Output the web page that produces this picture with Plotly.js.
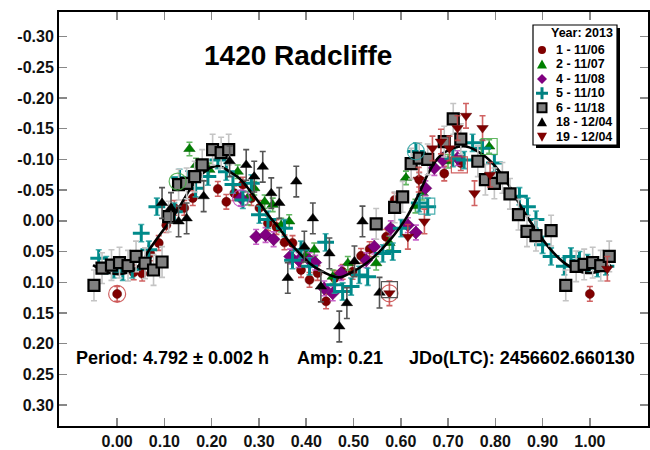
<!DOCTYPE html>
<html>
<head>
<meta charset="utf-8">
<script src="https://cdn.plot.ly/plotly-3.0.1.min.js"></script>
<style>html,body{margin:0;padding:0;background:#fff;}#chart{width:650px;height:450px;}</style>
</head>
<body>
<div id="chart"></div>
<script>
// ---------- DATA ----------
const seriesNames = ['1 - 11/06','2 - 11/07','4 - 11/08','5 - 11/10','6 - 11/18','18 - 12/04','19 - 12/04'];
const legendTitle = 'Year: 2013';
const chartTitle = '1420 Radcliffe';
const periodText = 'Period: 4.792 ± 0.002 h';
const ampText = 'Amp: 0.21';
const jdText = 'JDo(LTC): 2456602.660130';

const xTicks = [0,0.1,0.2,0.3,0.4,0.5,0.6,0.7,0.8,0.9,1.0];
const xTickText = ['0.00','0.10','0.20','0.30','0.40','0.50','0.60','0.70','0.80','0.90','1.00'];
const yTicks = [-0.30,-0.25,-0.20,-0.15,-0.10,-0.05,0,0.05,0.10,0.15,0.20,0.25,0.30];
const yTickText = ['-0.30','-0.25','-0.20','-0.15','-0.10','-0.05','0.00','0.05','0.10','0.15','0.20','0.25','0.30'];

// Series 1 - 11/06
const s1x = [0.000,0.035,0.053,0.070,0.088,0.104,0.121,0.142,0.160,0.213,0.231,0.248,0.266,0.284,0.301,0.319,0.337,0.354,0.371,0.389,0.407,0.424,0.442,0.460,0.477,0.498,0.516,0.534,0.569,0.587,0.639,0.692,0.727,1.000];
const s1y = [0.119,0.084,0.086,0.053,0.036,0.007,-0.021,-0.021,-0.037,-0.052,-0.031,-0.045,-0.059,-0.037,-0.021,0.004,0.010,0.035,0.036,0.080,0.096,0.085,0.131,0.093,0.083,0.083,0.057,0.046,0.026,-0.034,-0.067,-0.077,-0.094,0.119];
const s1e = 0.012;
// Series 2 - 11/07
const s2x = [0.153,0.167,0.195,0.255,0.276,0.290,0.312,0.329,0.347,0.364,0.400,0.417,0.456,0.488,0.548,0.576,0.611,0.631,0.646,0.700,0.787];
const s2y = [-0.117,-0.091,-0.083,-0.080,-0.037,-0.053,-0.031,-0.026,0.007,0.001,0.055,0.047,0.091,0.069,0.069,0.036,-0.070,-0.024,-0.045,-0.097,-0.121];
const s2e = 0.011;
// Series 4 - 11/08
const s4x = [0.262,0.294,0.314,0.331,0.366,0.384,0.407,0.419,0.438,0.456,0.474,0.527,0.544,0.579,0.615,0.632,0.652,0.671,0.689,0.720];
const s4y = [-0.037,0.026,0.023,0.030,0.058,0.064,0.064,0.068,0.110,0.118,0.085,0.064,0.042,0.012,0.007,0.019,-0.053,-0.086,-0.099,-0.102];
const s4e = 0.012;
// Series 5 - 11/10
const s5x = [-0.039,-0.023,-0.007,0.012,0.032,0.051,0.067,0.084,0.121,0.132,0.150,0.166,0.192,0.213,0.231,0.245,0.266,0.284,0.301,0.319,0.354,0.371,0.389,0.407,0.441,0.460,0.477,0.495,0.512,0.530,0.562,0.583,0.601,0.632,0.639,0.657,0.710,0.734,0.752,0.773,0.798,0.851,0.868,0.886,0.900,0.918,0.946,0.960,0.978,0.995,1.016,1.034];
const s5y = [0.061,0.072,0.079,0.083,0.079,0.020,0.047,-0.023,-0.015,-0.070,-0.067,-0.053,-0.072,-0.099,-0.080,-0.059,-0.034,-0.061,-0.010,-0.002,0.012,0.064,0.047,0.074,0.035,0.104,0.115,0.107,0.088,0.091,0.053,0.050,0.012,-0.113,-0.029,-0.023,-0.102,-0.099,-0.127,-0.118,-0.094,-0.040,-0.023,-0.002,0.039,0.058,0.074,0.058,0.064,0.069,0.077,0.074];
const s5e = 0.014;
// Series 6 - 11/18
const s6x = [-0.049,-0.032,-0.012,0.005,0.023,0.040,0.059,0.077,0.095,0.109,0.130,0.147,0.164,0.180,0.202,0.220,0.236,0.548,0.587,0.604,0.622,0.639,0.657,0.692,0.711,0.727,0.763,0.779,0.798,0.815,0.831,0.849,0.867,0.886,0.918,0.949,0.971,0.988,1.006,1.023,1.041];
const s6y = [0.105,0.077,0.072,0.068,0.073,0.058,0.069,0.080,0.067,-0.007,-0.059,-0.061,-0.072,-0.091,-0.116,-0.111,-0.116,0.005,-0.022,-0.039,-0.093,-0.102,-0.100,-0.129,-0.166,-0.133,-0.097,-0.067,-0.061,-0.070,-0.044,-0.010,0.017,0.024,0.016,0.105,0.074,0.071,0.068,0.073,0.058];
const s6e = 0.025;
// Series 18 - 12/04
const s18x = [0.095,0.114,0.130,0.147,0.183,0.238,0.273,0.290,0.308,0.326,0.343,0.361,0.379,0.396,0.414,0.431,0.449,0.470,0.486,0.502,0.519,0.555];
const s18y = [-0.029,-0.021,0.001,-0.004,-0.040,-0.097,-0.091,-0.072,-0.088,-0.045,-0.029,0.093,-0.064,0.042,-0.004,0.107,0.053,0.172,0.134,0.066,0.001,0.117];
const s18e = 0.025;
// Series 19 - 12/04
const s19x = [0.576,0.615,0.638,0.650,0.667,0.685,0.703,0.720,0.738,0.756,0.773,0.789,1.037];
const s19y = [0.118,0.026,-0.067,0.001,-0.118,-0.129,-0.118,-0.151,-0.171,-0.045,-0.151,-0.075,0.078];
const s19e = 0.020;

// Marked points (ringed / boxed), by series index
const ringSeries = [0,6,3,1,2];
const ringX = [0.000,0.576,0.632,0.128,0.262];
const ringY = [0.119,0.118,-0.113,-0.064,-0.037];
const boxSeries = [5,1,3,0];
const boxX = [0.576,0.787,0.655,0.724];
const boxY = [0.112,-0.121,-0.024,-0.091];

// Fourier fit curve
const fitX = [-0.051,-0.016,0.019,0.047,0.068,0.090,0.111,0.132,0.153,0.174,0.196,0.217,0.238,0.259,0.280,0.301,0.322,0.343,0.364,0.386,0.407,0.428,0.449,0.470,0.498,0.527,0.555,0.583,0.611,0.639,0.660,0.682,0.710,0.738,0.773,0.801,0.830,0.858,0.886,0.914,0.942,0.971,0.999,1.027,1.045];
const fitY = [0.072,0.085,0.085,0.072,0.047,0.023,0.001,-0.023,-0.050,-0.072,-0.086,-0.089,-0.080,-0.069,-0.050,-0.029,-0.007,0.012,0.034,0.053,0.069,0.080,0.088,0.092,0.083,0.069,0.050,0.026,-0.004,-0.045,-0.080,-0.105,-0.118,-0.121,-0.108,-0.088,-0.056,-0.018,0.015,0.044,0.066,0.080,0.085,0.080,0.072];

// ---------- STYLE ----------
const styles = [
  {symbol:'circle', size:9, color:'#800000', line:{color:'#5a0000',width:0.5}, err:'rgba(200,70,70,0.85)'},
  {symbol:'triangle-up', size:10, color:'#008000', line:{color:'#005000',width:0.5}, err:'rgba(70,170,70,0.85)'},
  {symbol:'diamond', size:10, color:'#800080', line:{color:'#500050',width:0.5}, err:'rgba(190,70,190,0.85)'},
  {symbol:'cross-thin', size:12, color:'#008080', line:{color:'#008a8a',width:3}, err:'rgba(40,160,160,0.85)'},
  {symbol:'square', size:11, color:'#808080', line:{color:'#000000',width:2.2}, err:'#c4c4c4'},
  {symbol:'triangle-up', size:10, color:'#000000', line:{color:'#000000',width:0.5}, err:'#555555'},
  {symbol:'triangle-down', size:10, color:'#800000', line:{color:'#5a0000',width:0.5}, err:'rgba(200,70,70,0.85)'}
];
const seriesX = [s1x,s2x,s4x,s5x,s6x,s18x,s19x];
const seriesY = [s1y,s2y,s4y,s5y,s6y,s18y,s19y];
const seriesE = [s1e,s2e,s4e,s5e,s6e,s18e,s19e];

const W = 650, H = 450;
const M = {l:59, r:2, t:12, b:24};
const pw = W - M.l - M.r, ph = H - M.t - M.b;
const px = v => (v - M.l) / pw;
const py = v => 1 - (v - M.t) / ph;

function seriesTrace(i){
  const st = styles[i];
  return {
    x: seriesX[i], y: seriesY[i], mode:'markers', name: seriesNames[i], showlegend:false,
    marker:{symbol:st.symbol, size:st.size, color:st.color, line:st.line},
    error_y:{type:'constant', value:seriesE[i], color:st.err, thickness:1.6, width:3}
  };
}
const traces = [];
[0,1,2,3].forEach(i => traces.push(seriesTrace(i)));
traces.push({x:fitX, y:fitY, mode:'lines', line:{color:'#000', width:2.6, shape:'spline', smoothing:1}, showlegend:false, hoverinfo:'skip'});
[4,5,6].forEach(i => traces.push(seriesTrace(i)));
// ringed and boxed marks
traces.push({x:ringX, y:ringY, mode:'markers', showlegend:false, hoverinfo:'skip',
  marker:{symbol:'circle-open', size:17, color:ringSeries.map(k=>styles[k].err), line:{width:1.2}}});
traces.push({x:boxX, y:boxY, mode:'markers', showlegend:false, hoverinfo:'skip',
  marker:{symbol:'square-open', size:16, color:boxSeries.map(k=>styles[k].err), line:{width:1.2}}});

// ---------- LEGEND (custom box) ----------
const shapes = [];
const annotations = [];
const lgL = 533, lgR = 617, lgT = 25, lgB = 145;
shapes.push({type:'rect', xref:'paper', yref:'paper', x0:px(lgL+3), x1:px(lgR+3), y0:py(lgB+3), y1:py(lgT+3), fillcolor:'#000', line:{width:0}, layer:'above'});
shapes.push({type:'rect', xref:'paper', yref:'paper', x0:px(lgL), x1:px(lgR), y0:py(lgB), y1:py(lgT), fillcolor:'#fff', line:{color:'#000', width:1.2}, layer:'above'});
annotations.push({xref:'paper', yref:'paper', x:px(615), y:py(33), xanchor:'right', yanchor:'middle', showarrow:false,
  text:legendTitle, font:{family:'Liberation Sans, Arial, sans-serif', size:12.5, color:'#000', weight:'bold'}});
const symX = 542;
function P(pts){ return 'M ' + pts.map(p => px(p[0]) + ',' + py(p[1])).join(' L ') + ' Z'; }
seriesNames.forEach((nm, i) => {
  const r = 50 + i * 14.45;
  const st = styles[i];
  let s;
  if (st.symbol === 'circle') {
    s = {type:'circle', x0:px(symX-4), x1:px(symX+4), y0:py(r+4), y1:py(r-4), fillcolor:st.color, line:{width:0}};
  } else if (st.symbol === 'triangle-up') {
    s = {type:'path', path:P([[symX-5,r+4],[symX+5,r+4],[symX,r-5]]), fillcolor:st.color, line:{width:0}};
  } else if (st.symbol === 'triangle-down') {
    s = {type:'path', path:P([[symX-5,r-4],[symX+5,r-4],[symX,r+5]]), fillcolor:st.color, line:{width:0}};
  } else if (st.symbol === 'diamond') {
    s = {type:'path', path:P([[symX,r-5],[symX+5,r],[symX,r+5],[symX-5,r]]), fillcolor:st.color, line:{width:0}};
  } else if (st.symbol === 'square') {
    s = {type:'rect', x0:px(symX-4.5), x1:px(symX+4.5), y0:py(r+4.5), y1:py(r-4.5), fillcolor:st.color, line:{color:'#000', width:2}};
  } else {
    s = {type:'path', path:'M ' + px(symX-6) + ',' + py(r) + ' L ' + px(symX+6) + ',' + py(r) + ' M ' + px(symX) + ',' + py(r-6) + ' L ' + px(symX) + ',' + py(r+6), line:{color:st.color, width:3}};
  }
  s.xref = 'paper'; s.yref = 'paper'; s.layer = 'above';
  shapes.push(s);
  annotations.push({xref:'paper', yref:'paper', x:px(554), y:py(r), xanchor:'left', yanchor:'middle', showarrow:false,
    text:nm, font:{family:'Liberation Sans, Arial, sans-serif', size:12.5, color:'#000', weight:'bold'}});
});

// Title and info text
annotations.push({xref:'paper', yref:'paper', x:px(298), y:py(55), xanchor:'center', yanchor:'middle', showarrow:false,
  text:chartTitle, font:{family:'Liberation Sans, Arial, sans-serif', size:28, color:'#000', weight:'bold'}});
const infoFont = {family:'Liberation Sans, Arial, sans-serif', size:18, color:'#000', weight:'bold'};
annotations.push({xref:'paper', yref:'paper', x:px(74), y:py(358), xanchor:'left', yanchor:'middle', showarrow:false, text:periodText, font:infoFont});
annotations.push({xref:'paper', yref:'paper', x:px(295), y:py(358), xanchor:'left', yanchor:'middle', showarrow:false, text:ampText, font:infoFont});
annotations.push({xref:'paper', yref:'paper', x:px(637), y:py(358), xanchor:'right', yanchor:'middle', showarrow:false, text:jdText, font:infoFont});

const tickFont = {family:'Liberation Sans, Arial, sans-serif', size:16, color:'#111', weight:'bold'};
const axisCommon = {showgrid:false, zeroline:false, showline:true, linecolor:'#000', linewidth:2, mirror:'ticks',
  ticks:'inside', ticklen:8, tickwidth:1.5, tickcolor:'#888', tickfont:tickFont, fixedrange:true};

const layout = {
  width:W, height:H, margin:M, paper_bgcolor:'#fff', plot_bgcolor:'#fff', showlegend:false,
  xaxis: Object.assign({}, axisCommon, {range:[-0.123,1.123], tickmode:'array', tickvals:xTicks, ticktext:xTickText}),
  yaxis: Object.assign({}, axisCommon, {range:[0.334,-0.340], tickmode:'array', tickvals:yTicks, ticktext:yTickText}),
  shapes:shapes, annotations:annotations
};
Plotly.newPlot('chart', traces, layout, {staticPlot:true, displayModeBar:false});
</script>
</body>
</html>
